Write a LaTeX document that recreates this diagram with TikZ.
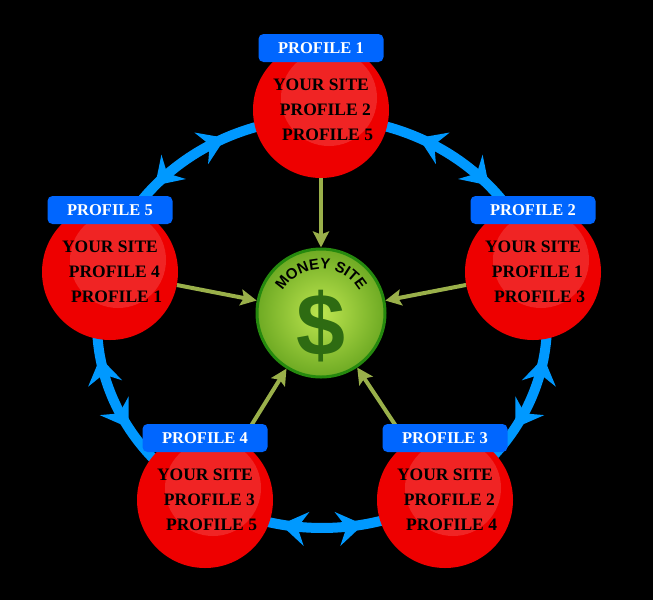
\documentclass[tikz,border=0pt]{standalone}
\usepackage{fontspec}
\setmainfont{Liberation Serif}
\setsansfont{Liberation Sans}
\usetikzlibrary{arrows.meta,decorations.markings,decorations.text,shadings}
\definecolor{ringblue}{HTML}{0099FF}
\definecolor{tabblue}{HTML}{0066FF}
\definecolor{redc}{HTML}{EE0000}
\definecolor{linkg}{HTML}{9AB04A}
\definecolor{dollar}{HTML}{2E6B12}
\begin{document}
\begin{tikzpicture}[x=1pt,y=-1pt,
  prof/.style={circle,minimum size=136pt,inner sep=0pt,fill=redc},
  hl/.style={circle,minimum size=96pt,inner sep=0pt,fill=white,fill opacity=0.14},
  txt/.style={font=\fontsize{17.5}{25}\selectfont\bfseries,text=black,align=center},
  tab/.style={rounded corners=5pt,fill=tabblue,minimum width=125pt,minimum height=28pt,text=white,font=\fontsize{16.5}{18}\selectfont\bfseries},
  seg/.style={draw=ringblue,line width=10pt,postaction={decorate},decoration={markings,
     mark=at position 0.35 with {\arrowreversed{Stealth[length=26pt,width=34pt,inset=9pt]}},
     mark=at position 0.65 with {\arrow{Stealth[length=26pt,width=34pt,inset=9pt]}}}},
  link/.style={draw=linkg,line width=4pt,-{Stealth[length=16pt,width=16pt,inset=3pt]}}]
\fill[black] (0,0) rectangle (653,600);
\useasboundingbox (0,0) rectangle (653,600);
\coordinate (C) at (322,323);
% ring
\foreach \a/\b in {-90/-15,-15/54.4,54.4/125.6,125.6/195,195/270}{
  \path[seg] (C) ++(\a:225 and 205) arc[start angle=\a,end angle=\b,x radius=225,y radius=205];
}
% money site
\node[circle,minimum size=128pt,inner sep=0pt,draw=dollar!80!green,line width=3pt,
  inner color={rgb,255:red,190;green,230;blue,80},outer color={rgb,255:red,110;green,170;blue,35}] (m) at (321,313) {};
\node[font=\fontsize{88}{88}\selectfont\bfseries\sffamily,text=dollar] (d) at (321,326) {\$};
\path[decorate,decoration={text along path,text align=center,
  text={|\fontsize{15}{15}\selectfont\bfseries\sffamily|MONEY SITE}}]
  (m.center) ++(-158:44) arc[start angle=-158,end angle=-22,radius=44];
% profiles
\foreach \n/\x/\y/\t/\la/\lb in {p1/321/110/1/2/5, p2/533/272/2/1/3, p3/445/500/3/2/4, p4/205/500/4/3/5, p5/110/272/5/4/1}{
  \node[prof] (\n) at (\x,\y) {};
  \node[hl] (\n h) at (\x+8,\y-12) {};
  \node[txt] (\n t) at (\x,\y) {YOUR SITE\\\ \ PROFILE \la\\\ \ \ PROFILE \lb};
}
% links
\foreach \n in {p1,p2,p3,p4,p5}{ \draw[link] (\n) -- (m); }
\foreach \n/\x/\y/\t in {p1/321/110/1, p2/533/272/2, p3/445/500/3, p4/205/500/4, p5/110/272/5}{
  \node[tab] (\n b) at (\x,\y-62) {PROFILE \t};
}
\end{tikzpicture}
\end{document}
